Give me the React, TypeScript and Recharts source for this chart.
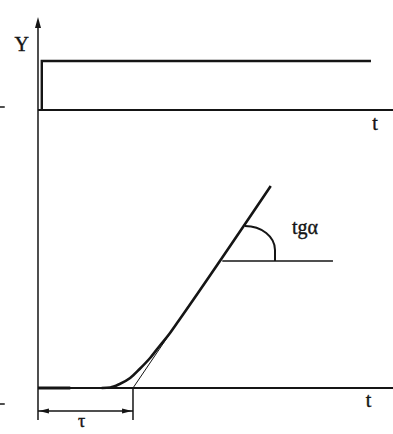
import { ComposedChart, Line, XAxis, YAxis, ReferenceLine, ReferenceDot } from "recharts";

// time axis in units of the dead time tau, output in plot units
const tau = 1;
const tEnd = 3.737;

// step input applied at t = 0
const stepT = [0.04, 0.04, 3.505];
const stepY = [2.78, 3.27, 3.27];
const inputAxisY = 2.78;

// plant response: dead time, bend, then straight rise
const respT = [0.67, 0.76, 0.86, 0.97, 1.07, 1.18, 1.28, 1.39, 1.49, 2.45];
const respY = [0, 0.005, 0.04, 0.1, 0.19, 0.3, 0.42, 0.55, 0.685, 2.02];

// tangent to the straight part, meets the t axis at tau
const tangentT = [tau, 1.6];
const tangentY = [0, 0.84];

// horizontal leg for the slope angle
const angleT = [1.94, 3.105];
const angleY = 1.27;

const ink = "#151515";
const serif = "'Liberation Serif', 'Times New Roman', 'DejaVu Serif', serif";

const toRows = (xs: number[], ys: number[]) => xs.map((t, i) => ({ t, v: ys[i] }));

const stepData = toRows(stepT, stepY);
const respData = toRows(respT, respY);
const tangentData = toRows(tangentT, tangentY);

type Pt = { cx?: number; cy?: number };

const arrowUp = (p: Pt) => (
  <path d={`M${p.cx},${p.cy} l-3,11 l6,0 z`} fill={ink} />
);
const arrowLeft = (p: Pt) => (
  <path d={`M${p.cx},${p.cy} l10,-2.5 l0,5 z`} fill={ink} />
);
const arrowRight = (p: Pt) => (
  <path d={`M${p.cx},${p.cy} l-10,-2.5 l0,5 z`} fill={ink} />
);

// quarter arc marking the angle alpha, with a short straight tail
const angleArc = (p: Pt) => (
  <path
    d={`M${p.cx},${(p.cy ?? 0) - 24} A30,24 0 0 1 ${(p.cx ?? 0) + 30},${p.cy} l0,11`}
    fill="none"
    stroke={ink}
    strokeWidth={2}
  />
);

const label = (text: string, size: number) => (p: Pt) => (
  <text x={p.cx} y={p.cy} textAnchor="middle" fill={ink} stroke={ink} strokeWidth={0.4}
    style={{ fontFamily: serif, fontSize: size }}>
    {text}
  </text>
);

export default function App() {
  return (
    <div style={{ position: "absolute", left: 0, top: 0, background: "#fff" }}>
      <ComposedChart width={393} height={434} margin={{ top: 0, right: 0, bottom: 0, left: 0 }}>
        <XAxis type="number" dataKey="t" domain={[-0.4, tEnd]} hide allowDataOverflow />
        <YAxis type="number" dataKey="v" domain={[-0.46, 3.88]} hide allowDataOverflow />

        {/* vertical axis with arrow */}
        <ReferenceLine segment={[{ x: 0, y: -0.32 }, { x: 0, y: 3.62 }]} stroke={ink} strokeWidth={1.5} />
        <ReferenceDot x={0} y={3.71} shape={arrowUp} />

        {/* time axes */}
        <ReferenceLine segment={[{ x: 0, y: inputAxisY }, { x: tEnd, y: inputAxisY }]} stroke={ink} strokeWidth={2} />
        <ReferenceLine segment={[{ x: 0, y: 0 }, { x: tEnd, y: 0 }]} stroke={ink} strokeWidth={2} />
        <ReferenceLine segment={[{ x: 0, y: 0 }, { x: 0.34, y: 0 }]} stroke={ink} strokeWidth={3} />

        {/* stray dashes at the left edge */}
        <ReferenceLine segment={[{ x: -0.4, y: 2.81 }, { x: -0.35, y: 2.81 }]} stroke={ink} strokeWidth={1.5} />
        <ReferenceLine segment={[{ x: -0.4, y: -0.16 }, { x: -0.35, y: -0.16 }]} stroke={ink} strokeWidth={1.5} />

        {/* input step */}
        <Line data={stepData} dataKey="v" type="linear" dot={false} activeDot={false} stroke={ink} strokeWidth={2.4} isAnimationActive={false} />

        {/* response and its tangent */}
        <Line data={respData} dataKey="v" type="monotone" dot={false} activeDot={false} stroke={ink} strokeWidth={2.6} isAnimationActive={false} />
        <Line data={tangentData} dataKey="v" type="linear" dot={false} activeDot={false} stroke={ink} strokeWidth={1} isAnimationActive={false} />

        {/* slope angle */}
        <ReferenceLine segment={[{ x: angleT[0], y: angleY }, { x: angleT[1], y: angleY }]} stroke={ink} strokeWidth={1.5} />
        <ReferenceDot x={2.179} y={1.38} shape={angleArc} />

        {/* dead time dimension */}
        <ReferenceLine segment={[{ x: tau, y: 0 }, { x: tau, y: -0.32 }]} stroke={ink} strokeWidth={1.5} />
        <ReferenceLine segment={[{ x: 0, y: -0.23 }, { x: tau, y: -0.23 }]} stroke={ink} strokeWidth={1.5} />
        <ReferenceDot x={0.01} y={-0.23} shape={arrowLeft} />
        <ReferenceDot x={tau - 0.01} y={-0.23} shape={arrowRight} />

        {/* labels */}
        <ReferenceDot x={-0.17} y={3.37} shape={label("Y", 20)} />
        <ReferenceDot x={3.547} y={2.58} shape={label("t", 20)} />
        <ReferenceDot x={3.48} y={-0.19} shape={label("t", 20)} />
        <ReferenceDot x={0.46} y={-0.39} shape={label("τ", 18)} />
        <ReferenceDot x={2.81} y={1.54} shape={label("tgα", 20)} />
      </ComposedChart>
    </div>
  );
}
